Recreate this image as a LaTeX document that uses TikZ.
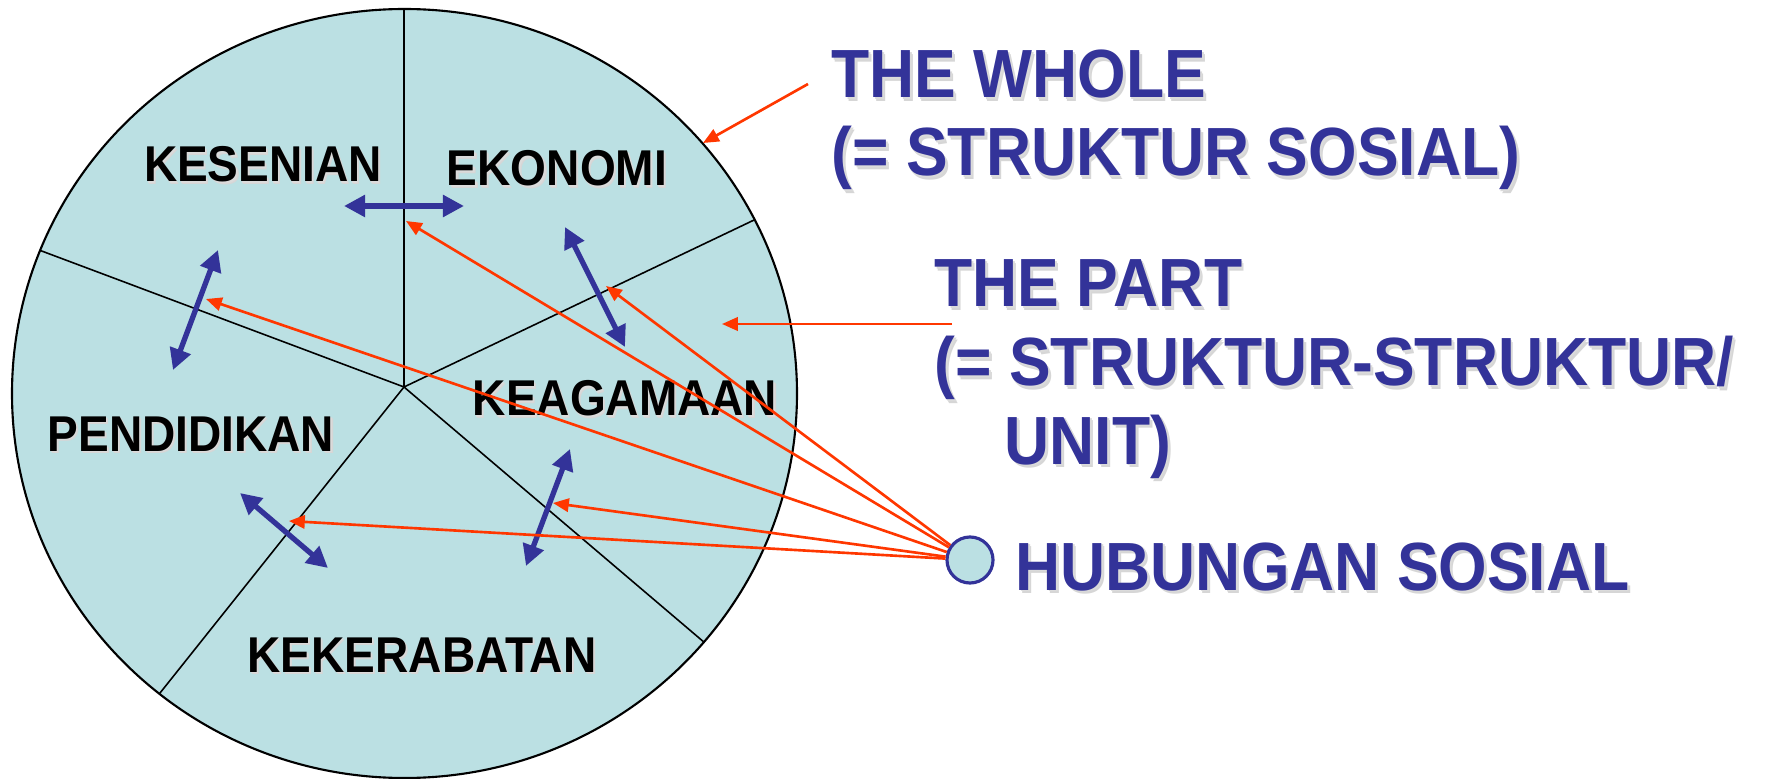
\documentclass[tikz,border=0pt]{standalone}
\usepackage{fontspec}
\setmainfont{Liberation Sans}
\usetikzlibrary{arrows.meta}
\definecolor{sblue}{RGB}{51,51,153}
\definecolor{sred}{RGB}{255,55,0}
\definecolor{sfill}{RGB}{187,224,227}
\newcommand\shd[1]{\scalebox{0.97}[1.06]{\leavevmode\rlap{\kern0.045em\raisebox{-0.045em}{\textcolor{black!16}{#1}}}\rlap{\kern0.025em\raisebox{-0.025em}{\textcolor{black!14}{#1}}}#1}}
\tikzset{
  lbl/.style={font=\fontsize{13.5pt}{15pt}\selectfont\bfseries, text=black, inner sep=0pt, anchor=base},
  btxt/.style={font=\fontsize{18.3pt}{21pt}\selectfont\bfseries, text=sblue, inner sep=0pt, anchor=base west},
  divline/.style={black, line width=0.45pt},
  rel/.style={sblue, line width=1.5pt, {Triangle[length=6pt,width=6pt]}-{Triangle[length=6pt,width=6pt]}},
  ptr/.style={sred, line width=0.75pt, -{Triangle[length=4.5pt,width=3.8pt]}},
}
\begin{document}
\begin{tikzpicture}[x=0.01cm,y=-0.01cm]
\useasboundingbox (0,0) rectangle (1769,779);
% whole
\fill[sfill] (404.5,393.5) ellipse [x radius=392.5, y radius=384.5];
\coordinate (hub) at (404,387);
\begin{scope}
  \clip (404.5,393.5) ellipse [x radius=392.5, y radius=384.5];
  \draw[divline] (hub) -- ++(0,-500);
  \draw[divline] (hub) -- ++(696,-332);
  \draw[divline] (hub) -- ++(-730,-274);
  \draw[divline] (hub) -- ++(-480,602);
  \draw[divline] (hub) -- ++(602,512);
\end{scope}
\draw[black, line width=0.6pt] (404.5,393.5) ellipse [x radius=392.5, y radius=384.5];
% labels
\node[lbl] (kes) at (263,182) {\shd{KESENIAN}};
\node[lbl] (eko) at (557,186) {\shd{EKONOMI}};
\node[lbl] (pen) at (191,451) {\shd{PENDIDIKAN}};
\node[lbl] (kea) at (625,416) {\shd{KEAGAMAAN}};
\node[lbl] (kek) at (422,672) {\shd{KEKERABATAN}};
% blue text
\node[btxt] (w1) at (831,98) {\shd{THE WHOLE}};
\node[btxt] (w2) at (831,176) {\shd{(= STRUKTUR SOSIAL)}};
\node[btxt] (p1) at (934,307) {\shd{THE PART}};
\node[btxt] (p2) at (934,386) {\shd{(= STRUKTUR-STRUKTUR/}};
\node[btxt] (p3) at (1004,464) {\shd{UNIT)}};
\node[btxt] (hb) at (1015,590) {\shd{HUBUNGAN SOSIAL}};
% blue relation arrows
\coordinate (a1) at (344,206); \coordinate (b1) at (464,206);
\coordinate (a2) at (218,250); \coordinate (b2) at (173,370);
\coordinate (a3) at (565,227); \coordinate (b3) at (625,347);
\coordinate (a4) at (240,493); \coordinate (b4) at (328,568);
\coordinate (a5) at (570,449); \coordinate (b5) at (526,566);
\draw[rel] (a1) -- (b1);
\draw[rel] (a2) -- (b2);
\draw[rel] (a3) -- (b3);
\draw[rel] (a4) -- (b4);
\draw[rel] (a5) -- (b5);
% hub of social relations
\node[circle, draw=sblue, fill=sfill, line width=0.9pt, minimum size=0.46cm, inner sep=0pt] (hs) at (970,560) {};
\coordinate (t1) at (406,221);
\coordinate (t2) at (606,286);
\coordinate (t3) at (206,299);
\coordinate (t4) at (553,503);
\coordinate (t5) at (289,521);
\draw[ptr] (hs) -- (t1);
\draw[ptr] (hs) -- (t2);
\draw[ptr] (hs) -- (t3);
\draw[ptr] (hs) -- (t4);
\draw[ptr] (hs) -- (t5);
% pointers to whole and part
\coordinate (ws) at (808,84); \coordinate (we) at (703,143);
\coordinate (ps) at (952,324); \coordinate (pe) at (722,324);
\draw[ptr] (ws) -- (we);
\draw[ptr] (ps) -- (pe);
\end{tikzpicture}
\end{document}
